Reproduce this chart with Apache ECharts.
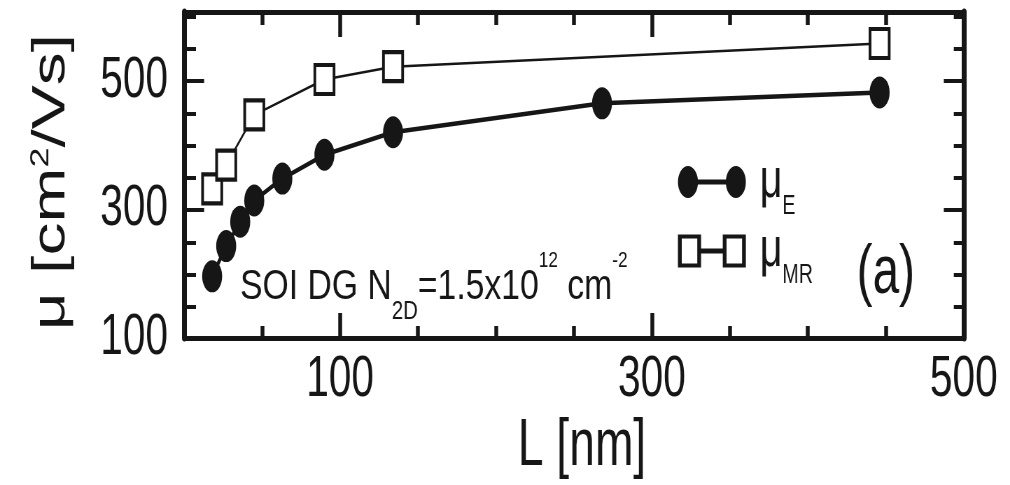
<!DOCTYPE html>
<html>
<head>
<meta charset="utf-8">
<script src="https://cdn.jsdelivr.net/npm/echarts@6/dist/echarts.min.js"></script>
<style>
  html, body { margin: 0; padding: 0; background: #fff; overflow: hidden; }
  #frame { width: 1010px; height: 485px; overflow: hidden; }
  /* The figure is laid out on a wider canvas and compressed horizontally,
     which gives the narrow lettering and the tall oval markers. */
  #chart { width: 1443px; height: 485px; transform: scaleX(0.69993); transform-origin: 0 0; }
</style>
</head>
<body>
<div id="frame"><div id="chart"></div></div>
<script>
// Gate length L [nm] and effective mobility mu_E [cm^2/Vs]
const lengthE   = [18, 27, 36, 45, 63, 90, 134, 268, 446];
const mobilityE = [196, 243, 281, 314, 348, 385, 420, 465, 482];
// Gate length L [nm] and magnetoresistance mobility mu_MR [cm^2/Vs]
const lengthMR   = [18, 27, 45, 90, 134, 446];
const mobilityMR = [332, 369, 447, 502, 522, 558];

// Tick values
const xMajorTicks = [100, 300, 500];
const xMinorTicks = [50, 150, 200, 250, 350, 400, 450];
const yMajorTicks = [100, 300, 500];
const yMinorTicks = [150, 200, 250, 350, 400, 450, 550, 600];

const seriesNames = ['μ_E', 'μ_MR'];

const INK = '#161616';
const FONT = "'Liberation Sans', Arial, Helvetica, sans-serif";
const X_RANGE = [0, 500];
const Y_RANGE = [100, 607];

// Legend glyphs: two markers joined by a bar
const ICON_E = 'path://M0,16A14.3,16,0,1,1,28.6,16A14.3,16,0,1,1,0,16Z' +
               'M68.4,16A14.3,16,0,1,1,97,16A14.3,16,0,1,1,68.4,16Z' +
               'M14,13.5H83V18.5H14Z';
const ICON_MR = 'path://M0,0H33V33H0Z M5.4,4V29H27.6V4Z' +
                'M64,0H97V33H64Z M69.4,4V29H91.6V4Z' +
                'M30,14H67V19H30Z';

const chart = echarts.init(document.getElementById('chart'), null, { renderer: 'canvas' });

const box = { left: 263, right: 66, top: 12, bottom: 146 };

function xAxis(grid, position, ticks, len, withLine) {
  return {
    type: 'value', gridIndex: grid, position: position,
    min: X_RANGE[0], max: X_RANGE[1],
    axisLine: { show: withLine, onZero: false, lineStyle: { color: INK, width: 5 } },
    axisTick: { show: true, inside: true, length: len, customValues: ticks,
                lineStyle: { color: INK, width: 5.5 } },
    axisLabel: { show: false },
    splitLine: { show: false }
  };
}
function yAxis(grid, position, ticks, len, withLine) {
  return {
    type: 'value', gridIndex: grid, position: position,
    min: Y_RANGE[0], max: Y_RANGE[1],
    axisLine: { show: withLine, onZero: false, lineStyle: { color: INK, width: 7 } },
    axisTick: { show: true, inside: true, length: len, customValues: ticks,
                lineStyle: { color: INK, width: 4 } },
    axisLabel: { show: false },
    splitLine: { show: false }
  };
}

const xBottom = xAxis(0, 'bottom', xMajorTicks, 25, true);
xBottom.axisLabel = { show: true, customValues: xMajorTicks, margin: 13,
                      fontSize: 58, fontFamily: FONT, color: INK };
xBottom.name = 'L [nm]';
xBottom.nameLocation = 'middle';
xBottom.nameGap = 74;
xBottom.nameTextStyle = { fontSize: 66, fontFamily: FONT, color: INK, padding: [0, 0, 0, 23] };

const yLeft = yAxis(0, 'left', yMajorTicks, 28.6, true);
yLeft.axisLabel = { show: true, customValues: yMajorTicks, margin: 23,
                    fontSize: 58, fontFamily: FONT, color: INK };
yLeft.name = '{a|μ [cm}{b|2}{a|/Vs]}';
yLeft.nameLocation = 'middle';
yLeft.nameRotate = 90;
yLeft.nameGap = 156;
yLeft.nameTextStyle = {
  color: INK, fontFamily: FONT, fontSize: 66, padding: [0, 14, 0, 0],
  rich: {
    a: { fontSize: 66, lineHeight: 66, fontFamily: FONT, color: INK },
    b: { fontSize: 36, lineHeight: 8, verticalAlign: 'top', fontFamily: FONT, color: INK }
  }
};

const legendText = {
  rich: {
    m: { fontSize: 56, lineHeight: 76, fontFamily: FONT, color: INK, padding: [0, 0, 0, 15] },
    s: { fontSize: 28, lineHeight: 25, verticalAlign: 'bottom', fontFamily: FONT, color: INK }
  }
};
function legendLabel(name) {
  const parts = name.split('_');
  return '{m|' + parts[0] + '}{s|' + parts[1] + '}';
}

const option = {
  animation: false,
  backgroundColor: '#fff',
  grid: [Object.assign({}, box), Object.assign({}, box)],
  xAxis: [
    xBottom,
    xAxis(0, 'top', xMajorTicks, 25, true),
    xAxis(1, 'bottom', xMinorTicks, 13, false),
    xAxis(1, 'top', xMinorTicks, 13, false)
  ],
  yAxis: [
    yLeft,
    yAxis(0, 'right', yMajorTicks, 28.6, true),
    yAxis(1, 'left', yMinorTicks, 17, false),
    yAxis(1, 'right', yMinorTicks, 14.3, false)
  ],
  legend: [
    {
      data: [{ name: seriesNames[0], icon: ICON_E, itemStyle: { color: INK, borderWidth: 0 } }],
      left: 968.6, top: 154, padding: 0, orient: 'vertical',
      itemWidth: 97, itemHeight: 32, selectedMode: false,
      formatter: legendLabel, textStyle: legendText
    },
    {
      data: [{ name: seriesNames[1], icon: ICON_MR, itemStyle: { color: INK, borderWidth: 0 } }],
      left: 968.6, top: 223, padding: 0, orient: 'vertical',
      itemWidth: 97, itemHeight: 33, selectedMode: false,
      formatter: legendLabel, textStyle: legendText
    }
  ],
  graphic: [
    {
      type: 'text', left: 343, top: 250, z: 10, scaleX: 1.12,
      style: {
        text: '{a|SOI DG N}{b|2D}{a|=1.5x10}{c|12}{a| cm}{c|-2}',
        fill: INK,
        rich: {
          a: { fontSize: 43, lineHeight: 75, fontFamily: FONT, fill: INK },
          b: { fontSize: 26, lineHeight: 26, verticalAlign: 'bottom', fontFamily: FONT, fill: INK },
          c: { fontSize: 22, lineHeight: 34, verticalAlign: 'top', fontFamily: FONT, fill: INK }
        }
      }
    },
    {
      type: 'text', left: 1224, top: 240, z: 10,
      style: { text: '(a)', fontSize: 68, fontFamily: FONT, fill: INK }
    }
  ],
  series: [
    {
      name: seriesNames[0], type: 'line', xAxisIndex: 0, yAxisIndex: 0,
      data: lengthE.map((x, i) => [x, mobilityE[i]]),
      symbol: 'circle', symbolSize: [28.6, 32],
      itemStyle: { color: INK },
      lineStyle: { color: INK, width: 4.5 },
      z: 3
    },
    {
      name: seriesNames[1], type: 'line', xAxisIndex: 0, yAxisIndex: 0,
      data: lengthMR.map((x, i) => [x, mobilityMR[i]]),
      symbol: 'rect', symbolSize: [27.4, 29],
      itemStyle: { color: '#ffffff', borderColor: INK, borderWidth: 4 },
      lineStyle: { color: INK, width: 2.5 },
      z: 2
    }
  ]
};

chart.setOption(option);
</script>
</body>
</html>
